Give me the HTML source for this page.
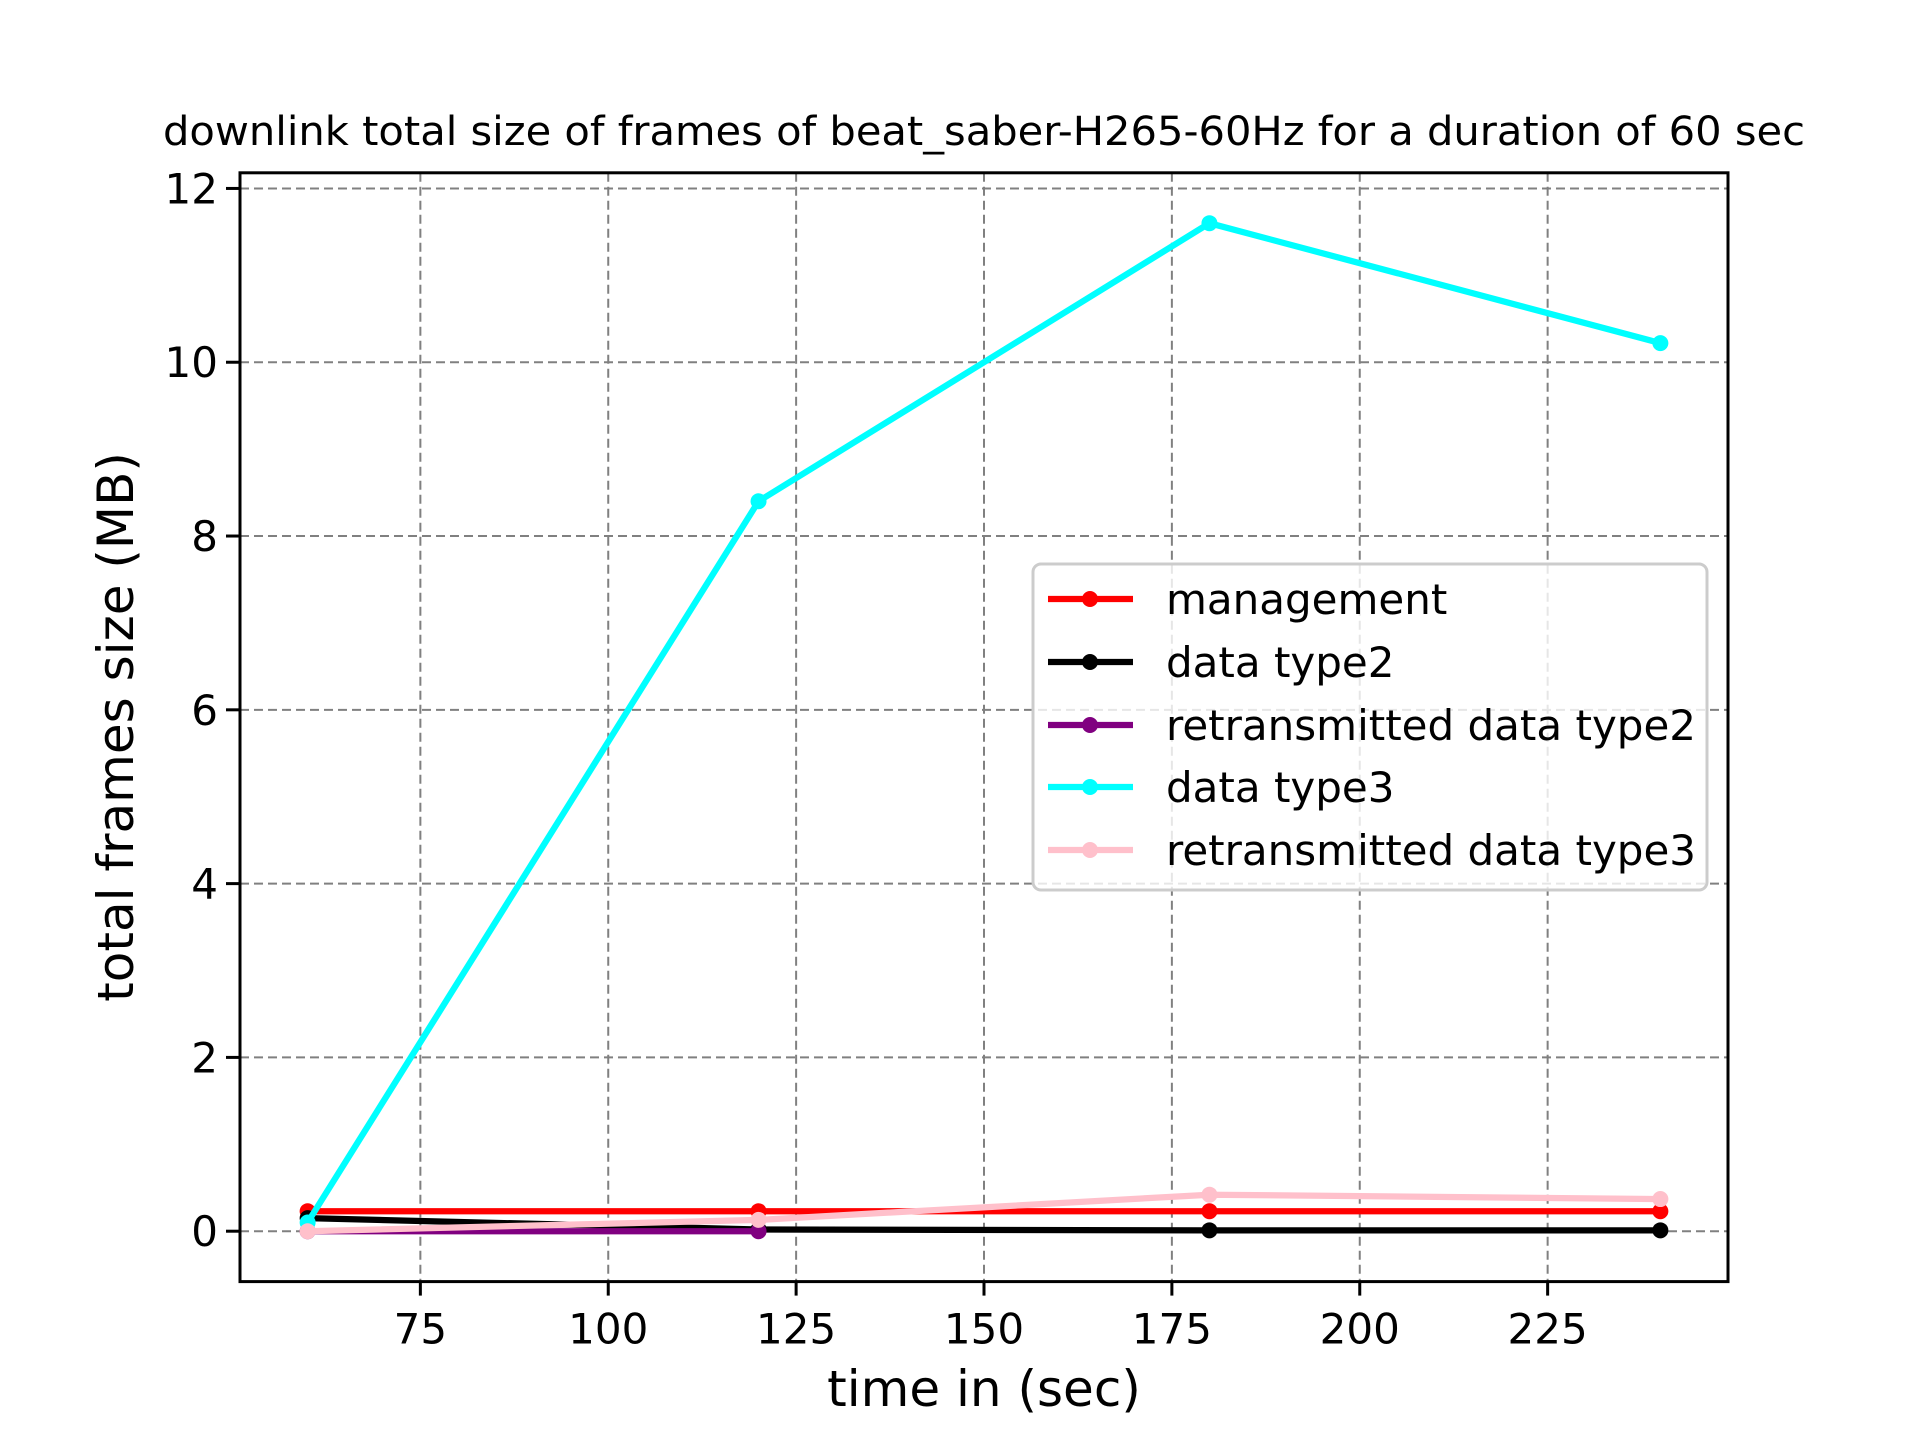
<!DOCTYPE html>
<html><head><meta charset="utf-8"><style>
body{margin:0;background:#fff}
svg{display:block;font-family:"DejaVu Sans","Liberation Sans",sans-serif}
</style></head><body>
<svg id="chart" width="1920" height="1440" viewBox="0 0 1920 1440" xmlns="http://www.w3.org/2000/svg">
<rect width="1920" height="1440" fill="#fff"/>
<g id="grid"></g><g id="series"></g><g id="axes"></g><g id="legend"></g>
<text x="984" y="145" font-size="40" text-anchor="middle" textLength="1642" lengthAdjust="spacingAndGlyphs">downlink total size of frames of beat_saber-H265-60Hz for a duration of 60 sec</text>
<text x="984" y="1406" font-size="50" text-anchor="middle">time in (sec)</text>
<text x="0" y="0" font-size="50" text-anchor="middle" transform="translate(133,727) rotate(-90)">total frames size (MB)</text>
</svg>
<script>
const times = [60, 120, 180, 240];
const management = [0.23, 0.23, 0.23, 0.23];
const dataType2 = [0.15, 0.02, 0.01, 0.01];
const retransType2 = [0.0, 0.0];
const dataType3 = [0.1, 8.4, 11.6, 10.22];
const retransType3 = [0.0, 0.13, 0.42, 0.37];
const xTicks = [75, 100, 125, 150, 175, 200, 225];
const yTicks = [0, 2, 4, 6, 8, 10, 12];
const seriesNames = ["management", "data type2", "retransmitted data type2", "data type3", "retransmitted data type3"];

const L=240,R=1728,T=172.8,B=1281.6;
const xMin=51,xMax=249,yMin=-0.58,yMax=12.18;
const xs=v=>L+(v-xMin)/(xMax-xMin)*(R-L);
const ys=v=>B-(v-yMin)/(yMax-yMin)*(B-T);
const NS="http://www.w3.org/2000/svg";
function mk(tag,attrs,parent){const e=document.createElementNS(NS,tag);for(const k in attrs)e.setAttribute(k,attrs[k]);parent.appendChild(e);return e;}
const grid=document.getElementById('grid'),axes=document.getElementById('axes'),ser=document.getElementById('series'),leg=document.getElementById('legend');

xTicks.forEach(t=>{
  const x=xs(t);
  const g=mk('line',{x1:x,x2:x,y1:T,y2:B,stroke:'#808080','stroke-width':2,'stroke-dasharray':'9,5'},grid);
  
  
  const tk=mk('line',{x1:x,x2:x,y1:B,y2:B+14,stroke:'#000','stroke-width':3},axes);
  
  
  const lb=mk('text',{x:x,y:B+62,'font-size':42,'text-anchor':'middle'},axes);
  lb.textContent=t;
  
  
});
yTicks.forEach(t=>{
  const y=ys(t);
  const g=mk('line',{x1:L,x2:R,y1:y,y2:y,stroke:'#808080','stroke-width':2,'stroke-dasharray':'9,5'},grid);
  
  
  const tk=mk('line',{x1:L-14,x2:L,y1:y,y2:y,stroke:'#000','stroke-width':3},axes);
  
  
  const lb=mk('text',{x:L-22,y:y+15,'font-size':42,'text-anchor':'end'},axes);
  lb.textContent=t;
  
  
});
const frame=mk('rect',{x:L,y:T,width:R-L,height:B-T,fill:'none',stroke:'#000','stroke-width':3},axes);



const allSeries=[
 {vals:management,color:'#ff0000',name:'management'},
 {vals:dataType2,color:'#000000',name:'data-type2'},
 {vals:retransType2,color:'#800080',name:'retransmitted-data-type2'},
 {vals:dataType3,color:'#00ffff',name:'data-type3'},
 {vals:retransType3,color:'#ffc0cb',name:'retransmitted-data-type3'}
];
allSeries.forEach(s=>{
  const pts=s.vals.map((v,i)=>xs(times[i])+','+ys(v)).join(' ');
  const pl=mk('polyline',{points:pts,fill:'none',stroke:s.color,'stroke-width':6.25,'stroke-linejoin':'round'},ser);
  
  
  s.vals.forEach((v,i)=>{
    const c=mk('circle',{cx:xs(times[i]),cy:ys(v),r:8,fill:s.color},ser);
    
    
  });
});

const box=mk('rect',{x:1033,y:564,width:674,height:326,rx:8,fill:'#fff','fill-opacity':0.8,stroke:'#cccccc','stroke-width':3},leg);


const ly=[599,662,725,787,850];
allSeries.forEach((s,i)=>{
  const l=mk('line',{x1:1048,x2:1133,y1:ly[i],y2:ly[i],stroke:s.color,'stroke-width':6.25},leg);
  
  
  const c=mk('circle',{cx:1090,cy:ly[i],r:8,fill:s.color},leg);
  
  
  const t=mk('text',{x:1166,y:ly[i]+15,'font-size':42},leg);
  t.textContent=seriesNames[i];
  
  
});
</script>
</body></html>
